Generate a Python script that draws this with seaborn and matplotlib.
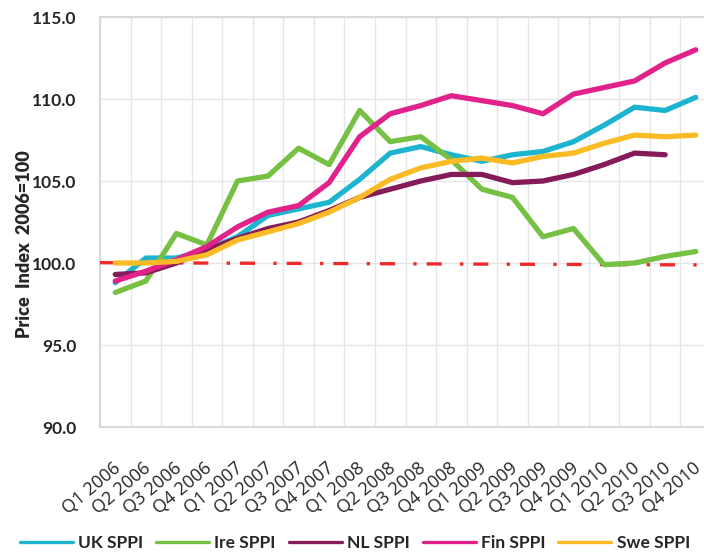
import numpy as np
import pandas as pd
import matplotlib
matplotlib.use('Agg')
import matplotlib.pyplot as plt
import matplotlib.transforms as mtransforms
import seaborn as sns

quarters = ['Q1 2006', 'Q2 2006', 'Q3 2006', 'Q4 2006',
            'Q1 2007', 'Q2 2007', 'Q3 2007', 'Q4 2007',
            'Q1 2008', 'Q2 2008', 'Q3 2008', 'Q4 2008',
            'Q1 2009', 'Q2 2009', 'Q3 2009', 'Q4 2009',
            'Q1 2010', 'Q2 2010', 'Q3 2010', 'Q4 2010']

uk_sppi = [98.8, 100.3, 100.3, 100.8, 101.6, 102.9, 103.3, 103.7, 105.1, 106.7,
           107.1, 106.6, 106.2, 106.6, 106.8, 107.4, 108.4, 109.5, 109.3, 110.1]
ire_sppi = [98.2, 98.9, 101.8, 101.1, 105.0, 105.3, 107.0, 106.0, 109.3, 107.4,
            107.7, 106.3, 104.5, 104.0, 101.6, 102.1, 99.9, 100.0, 100.4, 100.7]
nl_sppi = [99.3, 99.4, 100.0, 100.8, 101.5, 102.1, 102.5, 103.2, 104.0, 104.5,
           105.0, 105.4, 105.4, 104.9, 105.0, 105.4, 106.0, 106.7, 106.6, np.nan]
fin_sppi = [98.9, 99.5, 100.2, 101.0, 102.2, 103.1, 103.5, 104.9, 107.7, 109.1,
            109.6, 110.2, 109.9, 109.6, 109.1, 110.3, 110.7, 111.1, 112.2, 113.0]
swe_sppi = [100.0, 100.0, 100.1, 100.5, 101.4, 101.9, 102.4, 103.1, 104.0, 105.1,
            105.8, 106.2, 106.4, 106.1, 106.5, 106.7, 107.3, 107.8, 107.7, 107.8]

series_names = ['UK SPPI', 'Ire SPPI', 'NL SPPI', 'Fin SPPI', 'Swe SPPI']
series_colors = ['#1db4cf', '#76c043', '#861b5a', '#e0228a', '#fbbb24']

# dash-dot base line, start and end value
base_line = [100.02, 99.88]

df = pd.DataFrame({'quarter': quarters, 'UK SPPI': uk_sppi, 'Ire SPPI': ire_sppi,
                   'NL SPPI': nl_sppi, 'Fin SPPI': fin_sppi, 'Swe SPPI': swe_sppi})
df['pos'] = range(len(quarters))
long_df = df.melt(id_vars=['quarter', 'pos'], value_vars=series_names,
                  var_name='series', value_name='index').dropna()

sns.set_style('white')
fig = plt.figure(figsize=(7.04, 5.56), dpi=100)
ax = fig.add_axes([100 / 704, 1 - 427 / 556, 611 / 704, 410 / 556])

x_lo, x_hi = -0.5, len(quarters) - 0.5
ax.plot([x_lo, x_hi], base_line, color='#ee2a2a', lw=2.4,
        dashes=(4.5, 5.5, 1, 3), zorder=3)

sns.lineplot(data=long_df, x='pos', y='index', hue='series', hue_order=series_names,
             palette=dict(zip(series_names, series_colors)), lw=3.8, sort=False,
             ax=ax, legend=True, zorder=4)
for ln in ax.lines:
    ln.set_solid_capstyle('round')

ax.set_xlim(x_lo, x_hi)
ax.set_ylim(90, 115)
yt = np.arange(90, 115.1, 5)
ax.set_yticks(yt)
ax.set_yticklabels([f'{v:.1f}' for v in yt], fontsize=12.5, fontweight='bold',
                   family=['Lato', 'DejaVu Sans'])
ax.set_xticks(range(len(quarters)))
ax.set_xticklabels(quarters, rotation=40, ha='right', rotation_mode='anchor',
                   fontsize=13, family=['Open Sans', 'DejaVu Sans'])
ax.set_xticks(np.arange(x_lo, x_hi + 0.1, 1), minor=True)
ax.tick_params(axis='both', which='both', length=0)
ax.tick_params(axis='x', pad=23)
ax.tick_params(axis='y', pad=17)

# nudge the slanted labels a few pixels left
shift = mtransforms.ScaledTranslation(-0.03, 0, fig.dpi_scale_trans)
for lab in ax.xaxis.get_majorticklabels():
    lab.set_transform(lab.get_transform() + shift)

ax.grid(True, which='minor', axis='x', color='#e6e6e6', lw=1)
ax.grid(True, which='major', axis='y', color='#e6e6e6', lw=1)
ax.grid(False, which='major', axis='x')
ax.set_axisbelow(True)
for s in ['left', 'bottom', 'top']:
    ax.spines[s].set_color('#d9d9d9')
    ax.spines[s].set_linewidth(1.5)
ax.spines['right'].set_visible(False)

ax.set_xlabel('')
ax.set_ylabel('Price  Index  2006=100', fontsize=13, fontweight='heavy',
              family=['Lato', 'DejaVu Sans'])
ax.yaxis.set_label_coords(-0.11, 0.446)

handles, labels = ax.get_legend_handles_labels()
ax.get_legend().remove()
leg = fig.legend(handles, labels, loc='center', bbox_to_anchor=(0.504, 0.023), ncol=5,
                 frameon=False, handlelength=3.05, columnspacing=0.75, handletextpad=0.3,
                 prop={'size': 12.5, 'weight': 'bold', 'family': ['Lato', 'DejaVu Sans']})
for h in leg.legend_handles:
    h.set_linewidth(2.4)

fig.savefig('out.png', dpi=100)
